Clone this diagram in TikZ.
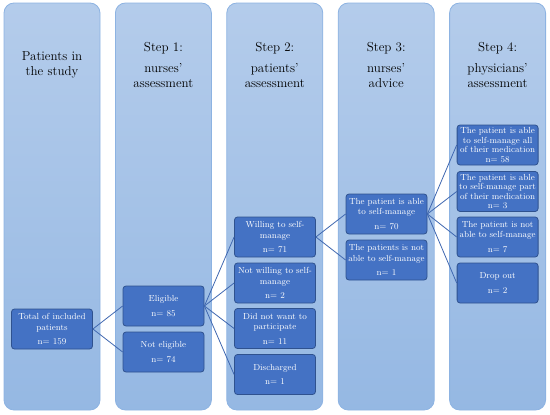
\documentclass[tikz,border=0pt]{standalone}
\usepackage{tikz}
\usetikzlibrary{positioning,calc}
\usepackage{xcolor}
\definecolor{colTop}{HTML}{B4CCEB}
\definecolor{colBot}{HTML}{95B8E3}
\definecolor{colEdge}{HTML}{8DB3E2}
\definecolor{boxFill}{HTML}{4472C4}
\definecolor{boxEdge}{HTML}{2F528F}
\definecolor{linkBlue}{HTML}{3F67B0}

\begin{document}
\begin{tikzpicture}[x=1pt,y=-1pt,
  stage/.style={draw=colEdge,line width=0.8pt,rounded corners=10pt,
    top color=colTop,bottom color=colBot,
    minimum width=96pt,minimum height=407pt,inner sep=0pt},
  head/.style={align=center,font=\fontsize{13}{15}\selectfont},
  box/.style={draw=boxEdge,line width=0.8pt,fill=boxFill,rounded corners=3pt,
    minimum width=81pt,minimum height=40pt,inner sep=0.5pt,
    align=center,text=white,font=\fontsize{8.8}{10.5}\selectfont},
  tallbox/.style={box,font=\fontsize{8.8}{9.6}\selectfont},
  link/.style={draw=linkBlue,line width=0.8pt}]
  \useasboundingbox (0,0) rectangle (550,415);

  % the five columns
  \node[stage] (c1) at (52,206.5) {};
  \node[stage] (c2) at (163.4,206.5) {};
  \node[stage] (c3) at (274.8,206.5) {};
  \node[stage] (c4) at (386.2,206.5) {};
  \node[stage] (c5) at (497.6,206.5) {};

  \node[head] (h1) at (52,64.5) {Patients in\\ the study};
  \node[head] (h2) at (163.4,64.5) {Step 1:\\[6pt] nurses'\\ assessment};
  \node[head] (h3) at (274.8,64.5) {Step 2:\\[6pt] patients'\\ assessment};
  \node[head] (h4) at (386.2,64.5) {Step 3:\\[6pt] nurses'\\ advice};
  \node[head] (h5) at (497.6,64.5) {Step 4:\\[6pt] physicians'\\ assessment};

  % boxes
  \node[box] (total) at (52,329) {Total of included\\ patients\\[4pt] n= 159};

  \node[box] (elig) at (163.5,306) {Eligible\\[4pt] n= 85};
  \node[box] (notelig) at (163.5,352) {Not eligible\\[4pt] n= 74};

  \node[box] (willing) at (275,237) {Willing to self-\\ manage\\[4pt] n= 71};
  \node[box] (notwilling) at (275,283) {Not willing to self-\\ manage\\[4pt] n= 2};
  \node[box] (noparticip) at (275,328.5) {Did not want to\\ participate\\[4pt] n= 11};
  \node[box] (discharged) at (275,374.5) {Discharged\\[4pt] n= 1};

  \node[box] (able) at (386.5,214) {The patient is able\\ to self-manage\\[4pt] n= 70};
  \node[box] (notable) at (386.5,260) {The patients is not\\ able to self-manage\\[4pt] n= 1};

  \node[tallbox] (medall) at (497.6,145) {The patient is able\\ to self-manage all\\ of their medication\\ n= 58};
  \node[tallbox] (medpart) at (497.6,191.5) {The patient is able\\ to self-manage part\\ of their medication\\ n= 3};
  \node[box] (medno) at (497.6,237) {The patient is not\\ able to self-manage\\[4pt] n= 7};
  \node[box] (dropout) at (497.6,283) {Drop out\\[4pt] n= 2};

  % connectors
  \foreach \t in {elig,notelig}
    \draw[link] (total.east) -- (\t.west);
  \foreach \t in {willing,notwilling,noparticip,discharged}
    \draw[link] (elig.east) -- (\t.west);
  \foreach \t in {able,notable}
    \draw[link] (willing.east) -- (\t.west);
  \foreach \t in {medall,medpart,medno,dropout}
    \draw[link] (able.east) -- (\t.west);
\end{tikzpicture}
\end{document}
